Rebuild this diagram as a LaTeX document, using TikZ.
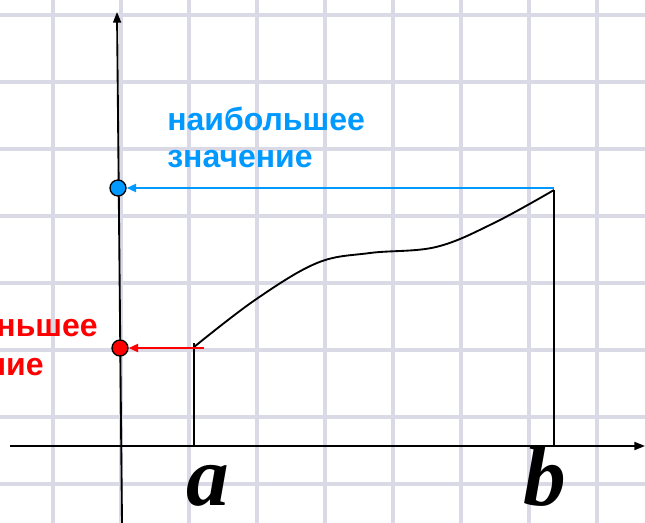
\documentclass[tikz,border=0pt]{standalone}
\usepackage{fontspec}
\setmainfont{Liberation Serif}
\newfontfamily\cyrfont{Liberation Sans}
\usetikzlibrary{arrows.meta}
\definecolor{gridgray}{RGB}{218,218,230}
\definecolor{maxblue}{RGB}{0,153,255}
\definecolor{minred}{RGB}{255,0,0}
\begin{document}
\begin{tikzpicture}[x=0.75pt,y=-0.75pt,
	axis/.style={line width=1.4pt,-{Triangle[length=8pt,width=6pt]}},
	valarrow/.style={line width=1.5pt,-{Triangle[length=7pt,width=6pt]}},
	dot/.style={circle,draw=black,line width=1pt,inner sep=0pt,minimum size=12pt},
	lbl/.style={font=\cyrfont\bfseries\fontsize{24}{28}\selectfont,inner sep=0pt},
	ab/.style={font=\bfseries\itshape\fontsize{64}{64}\selectfont,anchor=base,inner sep=0pt}]
	\fill[white] (0,0) rectangle (645,523) ;
	\clip (0,0) rectangle (645,523) ;
	% grid
	\foreach \gx in {53,121,...,597} \draw[gridgray,line width=2.4pt] (\gx,0) -- (\gx,523) ;
	\foreach \gy in {15,82,...,484} \draw[gridgray,line width=2.4pt] (0,\gy) -- (645,\gy) ;
	% axes
	\coordinate (ybot) at (122,523) ; 
	\coordinate (ytop) at (117,12) ; 
	\coordinate (xl) at (10,446) ; 
	\coordinate (xr) at (645,446) ; 
	\draw[axis] (ybot) -- (ytop) ;
	\draw[axis] (xl) -- (xr) ;
	% a, b
	\coordinate (afoot) at (194,446) ; 
	\coordinate (atop) at (194,343) ; 
	\coordinate (bfoot) at (554,446) ; 
	\coordinate (btop) at (554,190) ; 
	\draw[line width=1.4pt] (afoot) -- (atop) ;
	\draw[line width=1.4pt] (bfoot) -- (btop) ;
	\draw[line width=1.4pt] plot[smooth,tension=0.6] coordinates {(194,347) (255,300) (317,263) (370,253) (436,247) (494,223) (btop)} ;
	\node[ab] (alab) at (208,505) {a} ; 
	\node[ab] (blab) at (545,505) {b} ; 
	% values
	\node[dot,fill=maxblue] (maxdot) at (118,188) {} ; 
	\node[dot,fill=minred] (mindot) at (120,348) {} ; 
	\coordinate (maxstart) at (554,188) ; 
	\coordinate (minstart) at (204,348) ; 
	\draw[valarrow,maxblue] (maxstart) -- (maxdot) ;
	\draw[valarrow,minred] (minstart) -- (mindot) ;
	\node[lbl,text=maxblue,anchor=base west] (maxtop) at (167,131) {наибольшее} ; 
	\node[lbl,text=maxblue,anchor=base west] (maxbot) at (167,168) {значение} ; 
	\node[lbl,text=minred,anchor=base east] (mintop) at (98,337) {наименьшее} ; 
	\node[lbl,text=minred,anchor=base west] (minbot) at ([yshift=-28.5pt]mintop.base west) {значение} ; 
\end{tikzpicture}
\end{document}
